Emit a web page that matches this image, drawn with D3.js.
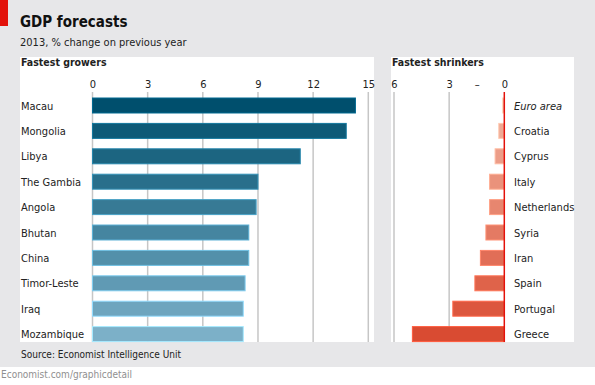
<!DOCTYPE html>
<html>
<head>
<meta charset="utf-8">
<script src="https://cdn.jsdelivr.net/npm/d3@7"></script>
<style>
  body { margin: 0; background: #fff; }
  text { font-family: "Liberation Sans Narrow", "DejaVu Sans Condensed", sans-serif; fill: #222; }
</style>
</head>
<body>
<script>
// data
var growers = ["Macau", "Mongolia", "Libya", "The Gambia", "Angola", "Bhutan", "China", "Timor-Leste", "Iraq", "Mozambique"];
var growerValues = [14.3, 13.8, 11.3, 9.0, 8.9, 8.5, 8.5, 8.3, 8.2, 8.2];
var growerTicks = [0, 3, 6, 9, 12, 15];

var shrinkers = ["Euro area", "Croatia", "Cyprus", "Italy", "Netherlands", "Syria", "Iran", "Spain", "Portugal", "Greece"];
var shrinkerValues = [-0.1, -0.3, -0.5, -0.8, -0.8, -1.0, -1.3, -1.6, -2.8, -5.0];
var shrinkerTicks = [-6, -3, -1.5, 0];
var shrinkerTickLabels = ["6", "3", "–", "0"];

var width = 595, height = 385;
var font = "'Liberation Sans Narrow', 'DejaVu Sans Condensed', sans-serif";

var svg = d3.select("body").append("svg")
  .attr("width", width)
  .attr("height", height);

// backgrounds
svg.append("rect").attr("width", width).attr("height", 367).attr("fill", "#e7e7e9");
svg.append("rect").attr("x", 0).attr("y", 0).attr("width", 8).attr("height", 26).attr("fill", "#e3120b");
svg.append("rect").attr("x", 20).attr("y", 57).attr("width", 354).attr("height", 285).attr("fill", "#fff");
svg.append("rect").attr("x", 391).attr("y", 57).attr("width", 183).attr("height", 285).attr("fill", "#fff");

// titles
svg.append("text").attr("x", 20).attr("y", 27)
  .style("font-size", "15px").style("font-weight", "bold").style("fill", "#111")
  .text("GDP forecasts");
svg.append("text").attr("x", 20).attr("y", 46)
  .style("font-size", "11px")
  .text("2013, % change on previous year");
svg.append("text").attr("x", 21).attr("y", 66)
  .style("font-size", "10.5px").style("font-weight", "bold")
  .text("Fastest growers");
svg.append("text").attr("x", 392).attr("y", 66)
  .style("font-size", "10.5px").style("font-weight", "bold")
  .text("Fastest shrinkers");
svg.append("text").attr("x", 21).attr("y", 358)
  .style("font-size", "10px")
  .text("Source: Economist Intelligence Unit");
svg.append("text").attr("x", 1).attr("y", 378)
  .style("font-size", "10px").style("fill", "#8f8f8f")
  .text("Economist.com/graphicdetail");

// scales
var gridTop = 92, gridBottom = 342;

var yL = d3.scaleBand().domain(growers)
  .range([92.8, 346.8]).paddingInner(0.41).paddingOuter(0.205);
var yR = d3.scaleBand().domain(shrinkers)
  .range([92.8, 346.8]).paddingInner(0.41).paddingOuter(0.205);

var xL = d3.scaleLinear().domain([0, 15]).range([92.5, 368.3]);
var xR = d3.scaleLinear().domain([-6, 0]).range([394, 504.3]);

var blue = d3.interpolateRgb("#004f6d", "#7cb0c8");
var red = d3.interpolateRgb("#f2b5a0", "#d94b32");

// left panel gridlines
svg.append("g").selectAll("line").data(growerTicks).enter().append("line")
  .attr("x1", function(d) { return xL(d); })
  .attr("x2", function(d) { return xL(d); })
  .attr("y1", gridTop).attr("y2", gridBottom)
  .attr("stroke", "#c6c6c6").attr("stroke-width", 1.5);

// left axis labels
svg.append("g")
  .attr("transform", "translate(0,88)")
  .call(d3.axisTop(xL).tickValues(growerTicks).tickSize(0).tickPadding(0))
  .call(function(g) {
    g.select(".domain").remove();
    g.selectAll("text").style("font-size", "11px").attr("fill", "#222").style("font-family", font);
  });

// left bars
svg.append("g").selectAll("rect").data(growers).enter().append("rect")
  .attr("x", xL(0))
  .attr("y", function(d) { return yL(d); })
  .attr("width", function(d, i) { return xL(growerValues[i]) - xL(0); })
  .attr("height", yL.bandwidth())
  .attr("fill", function(d, i) { return blue(i / 9); })
  .attr("stroke", function(d, i) { return d3.color(blue(i / 9)).brighter(0.8); })
  .attr("stroke-width", 1);

// left labels
svg.append("g").selectAll("text").data(growers).enter().append("text")
  .attr("x", 21)
  .attr("y", function(d) { return yL(d) + yL.bandwidth() / 2 + 4; })
  .style("font-size", "11px")
  .text(function(d) { return d; });

// right panel gridlines (6 and 3)
svg.append("g").selectAll("line").data([-6, -3]).enter().append("line")
  .attr("x1", function(d) { return xR(d); })
  .attr("x2", function(d) { return xR(d); })
  .attr("y1", gridTop).attr("y2", gridBottom)
  .attr("stroke", "#c6c6c6").attr("stroke-width", 1.5);

svg.append("g")
  .attr("transform", "translate(0,88)")
  .call(d3.axisTop(xR).tickValues(shrinkerTicks).tickSize(0).tickPadding(0)
    .tickFormat(function(d, i) { return shrinkerTickLabels[i]; }))
  .call(function(g) {
    g.select(".domain").remove();
    g.selectAll("text").style("font-size", "11px").attr("fill", "#222").style("font-family", font);
  });

// right bars
svg.append("g").selectAll("rect").data(shrinkers).enter().append("rect")
  .attr("x", function(d, i) { return xR(shrinkerValues[i]); })
  .attr("y", function(d) { return yR(d); })
  .attr("width", function(d, i) { return xR(0) - xR(shrinkerValues[i]); })
  .attr("height", yR.bandwidth())
  .attr("fill", function(d, i) { return red(i / 9); })
  .attr("stroke", function(d, i) { return d3.color(red(i / 9)).brighter(0.5); })
  .attr("stroke-width", 1);

// zero line
svg.append("line")
  .attr("x1", xR(0)).attr("x2", xR(0))
  .attr("y1", gridTop).attr("y2", gridBottom)
  .attr("stroke", "#e3120b").attr("stroke-width", 1.5);

// right labels
svg.append("g").selectAll("text").data(shrinkers).enter().append("text")
  .attr("x", 514)
  .attr("y", function(d) { return yR(d) + yR.bandwidth() / 2 + 4; })
  .style("font-size", "11px")
  .style("font-style", function(d) { return d == "Euro area" ? "italic" : "normal"; })
  .text(function(d) { return d; });
</script>
</body>
</html>
